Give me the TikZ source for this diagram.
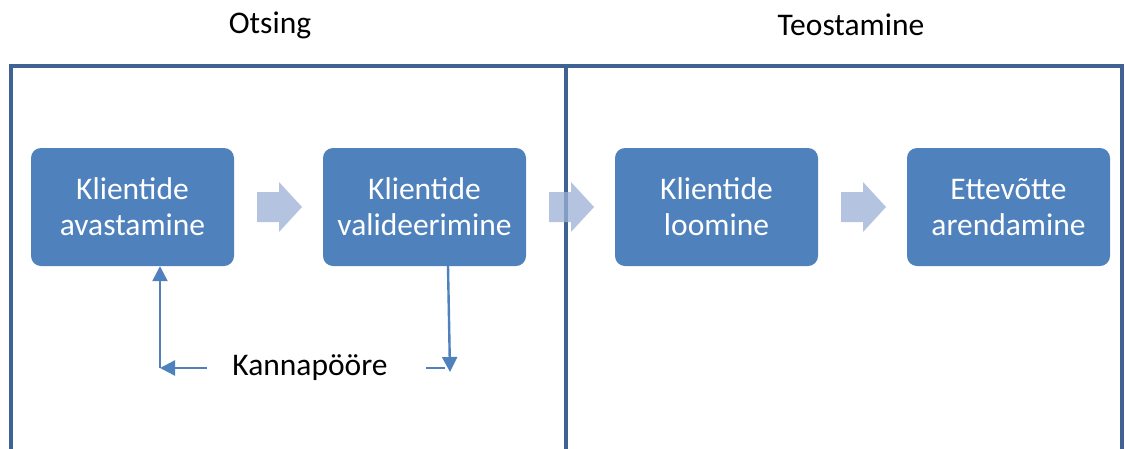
\documentclass[tikz,border=0pt]{standalone}
\usepackage{fontspec}
\setmainfont{Carlito}
\usetikzlibrary{arrows.meta}
\definecolor{framecol}{RGB}{62,98,148}
\definecolor{boxcol}{RGB}{79,129,189}
\definecolor{arrowcol}{RGB}{155,176,213}
\tikzset{
  stagebox/.style={draw=none, fill=boxcol, rounded corners=10pt, minimum width=203pt, minimum height=118pt, text=white, align=center, font=\fontsize{31.5}{36}\selectfont, inner sep=0pt},
  frame/.style={draw=framecol, line width=4.5pt},
  title/.style={text=black, font=\fontsize{31.5}{36}\selectfont, inner sep=0pt},
  conn/.style={draw=boxcol, line width=2.4pt},
  tip/.style={-{Triangle[length=15pt,width=15pt]}},
  pics/blockarrow/.style={code={
    \fill[arrowcol, fill opacity=0.75] (0,-15) -- (22,-15) -- (22,-25) -- (45,0) -- (22,25) -- (22,15) -- (0,15) -- cycle;
  }}
}
\begin{document}
\begin{tikzpicture}[x=1pt,y=-1pt]
\useasboundingbox (0,0) rectangle (1125,448);
\fill[white] (0,0) rectangle (1125,448);
% frames
\draw[frame] (11,470) -- (11,66) -- (566,66) -- (566,470);
\draw[frame] (566,66) -- (1122,66) -- (1122,470);
% titles
\node[title] (t1) at (270,25) {Otsing};
\node[title] (t2) at (851,25) {Teostamine};
% boxes
\node[stagebox] (b1) at (132.5,207) {Klientide\\avastamine};
\node[stagebox] (b2) at (424.5,207) {Klientide\\valideerimine};
\node[stagebox] (b3) at (716.5,207) {Klientide\\loomine};
\node[stagebox] (b4) at (1008.5,207) {Ettevõtte\\arendamine};
% block arrows
\pic at (257,207) {blockarrow};
\pic at (549,207) {blockarrow};
\pic at (841,207) {blockarrow};
% pivot
\node[title] (kn) at (310,368) {Kannapööre};
\coordinate (kl) at (207,368);
\coordinate (c1) at (160,368);
\coordinate (kr) at (426,368);
\coordinate (kr2) at (445,368);
\coordinate (c2) at (450,372);
\draw[conn,tip] (kl) -- (c1);
\draw[conn,tip] (c1) -- (c1 |- b1.south);
\draw[conn] (kr) -- (kr2);
\draw[conn,tip] ([xshift=23.5pt]b2.south) -- (c2);
\end{tikzpicture}
\end{document}
